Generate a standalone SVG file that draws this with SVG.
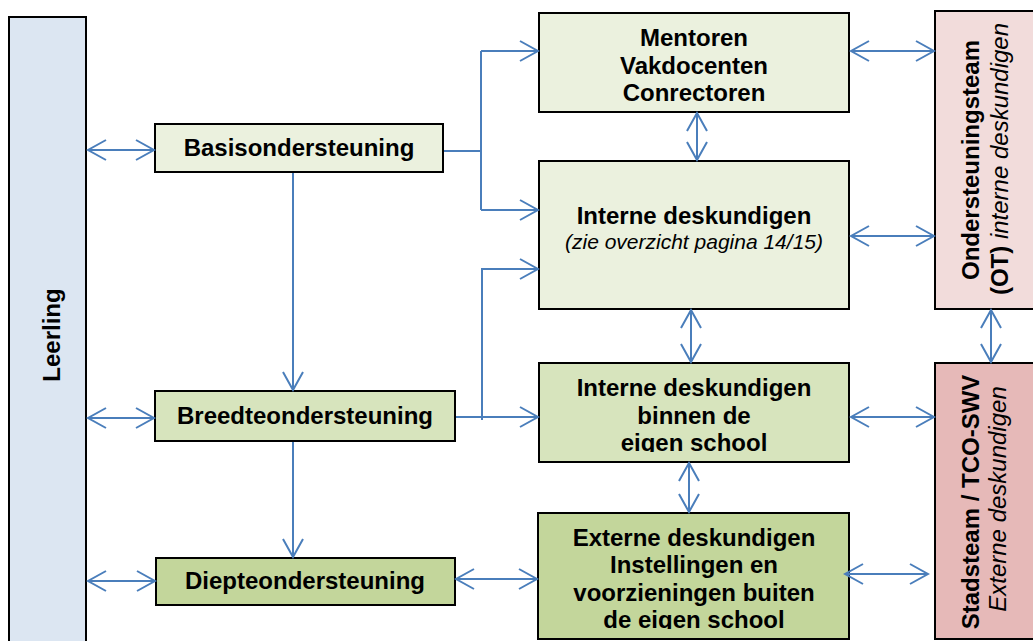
<svg xmlns="http://www.w3.org/2000/svg" width="1033" height="641" viewBox="0 0 1033 641">
<style>
.box{stroke:#000;stroke-width:2}
.t{font-family:"Liberation Sans",Arial,sans-serif;font-size:24px;font-weight:bold;fill:#000;text-anchor:middle}
.i{font-weight:normal;font-style:italic}
.c{fill:none;stroke:#4a7ebb;stroke-width:2}
</style>
<defs>
<marker id="ah" markerUnits="userSpaceOnUse" viewBox="-20 -12 22 24" refX="0" refY="0" markerWidth="22" markerHeight="24" orient="auto-start-reverse">
<path d="M-18,-10 L0,0 L-18,10" fill="none" stroke="#4a7ebb" stroke-width="2"/>
</marker>
<clipPath id="clipBinnen"><rect x="539" y="363" width="310" height="89"/></clipPath>
<clipPath id="clipExt"><rect x="538" y="513" width="311" height="116"/></clipPath>
</defs>

<g id="leerling">
<rect class="box" x="9" y="17" width="77" height="640" fill="#dce6f2"/>
<text class="t" transform="translate(60,335) rotate(-90)">Leerling</text>
</g>

<g id="basis">
<rect class="box" x="155" y="124" width="288" height="48" fill="#ebf1de"/>
<text class="t" x="299" y="156">Basisondersteuning</text>
</g>

<g id="breedte">
<rect class="box" x="155" y="391" width="300" height="50" fill="#d7e4bd"/>
<text class="t" x="305" y="424">Breedteondersteuning</text>
</g>

<g id="diepte">
<rect class="box" x="156" y="558" width="299" height="47" fill="#c3d69b"/>
<text class="t" x="305" y="589">Diepteondersteuning</text>
</g>

<g id="mentoren">
<rect class="box" x="539" y="13" width="310" height="99" fill="#ebf1de"/>
<text class="t" x="694" y="46">Mentoren</text>
<text class="t" x="694" y="74">Vakdocenten</text>
<text class="t" x="694" y="101">Conrectoren</text>
</g>

<g id="interne">
<rect class="box" x="539" y="161" width="310" height="148" fill="#ebf1de"/>
<text class="t" x="694" y="224">Interne deskundigen</text>
<text class="t i" x="694" y="249" style="font-size:21px">(zie overzicht pagina 14/15)</text>
</g>

<g id="interne-binnen">
<rect class="box" x="539" y="363" width="310" height="99" fill="#d7e4bd"/>
<g clip-path="url(#clipBinnen)">
<text class="t" x="694" y="396">Interne deskundigen</text>
<text class="t" x="694" y="424">binnen de</text>
<text class="t" x="694" y="451">eigen school</text>
</g>
</g>

<g id="externe">
<rect class="box" x="538" y="513" width="311" height="126" fill="#c3d69b"/>
<g clip-path="url(#clipExt)">
<text class="t" x="694" y="546">Externe deskundigen</text>
<text class="t" x="694" y="573">Instellingen en</text>
<text class="t" x="694" y="601">voorzieningen buiten</text>
<text class="t" x="694" y="628">de eigen school</text>
</g>
</g>

<g id="ondersteuningsteam">
<rect class="box" x="935" y="11" width="110" height="298" fill="#f2dcdb"/>
<text class="t" transform="translate(979,160) rotate(-90)">Ondersteuningsteam</text>
<text class="t" transform="translate(1008,159) rotate(-90)">(OT)<tspan class="i"> interne deskundigen</tspan></text>
</g>

<g id="stadsteam">
<rect class="box" x="935" y="363" width="110" height="276" fill="#e6b9b8"/>
<text class="t" transform="translate(979,502) rotate(-90)">Stadsteam / TCO-SWV</text>
<text class="t i" transform="translate(1006,499) rotate(-90)">Externe deskundigen</text>
</g>

<g id="connectors">
<path class="c" d="M88,150 H154" marker-start="url(#ah)" marker-end="url(#ah)"/>
<path class="c" d="M88,418 H154" marker-start="url(#ah)" marker-end="url(#ah)"/>
<path class="c" d="M88,581 H155" marker-start="url(#ah)" marker-end="url(#ah)"/>
<path class="c" d="M293,173 V390" marker-end="url(#ah)"/>
<path class="c" d="M293,442 V557" marker-end="url(#ah)"/>
<path class="c" d="M444,151 H481"/>
<path class="c" d="M481,51 V210"/>
<path class="c" d="M481,51 H538" marker-end="url(#ah)"/>
<path class="c" d="M481,210 H538" marker-end="url(#ah)"/>
<path class="c" d="M456,417 H538" marker-end="url(#ah)"/>
<path class="c" d="M482,420 V269 H538" marker-end="url(#ah)"/>
<path class="c" d="M697,113 V160" marker-start="url(#ah)" marker-end="url(#ah)"/>
<path class="c" d="M691,310 V362" marker-start="url(#ah)" marker-end="url(#ah)"/>
<path class="c" d="M689,463 V512" marker-start="url(#ah)" marker-end="url(#ah)"/>
<path class="c" d="M456,579 H537" marker-start="url(#ah)" marker-end="url(#ah)"/>
<path class="c" d="M851,51 H934" marker-start="url(#ah)" marker-end="url(#ah)"/>
<path class="c" d="M851,236 H934" marker-start="url(#ah)" marker-end="url(#ah)"/>
<path class="c" d="M991,310 V362" marker-start="url(#ah)" marker-end="url(#ah)"/>
<path class="c" d="M851,417 H934" marker-start="url(#ah)" marker-end="url(#ah)"/>
<path class="c" d="M845,574 H928" marker-start="url(#ah)" marker-end="url(#ah)"/>
</g>
</svg>
